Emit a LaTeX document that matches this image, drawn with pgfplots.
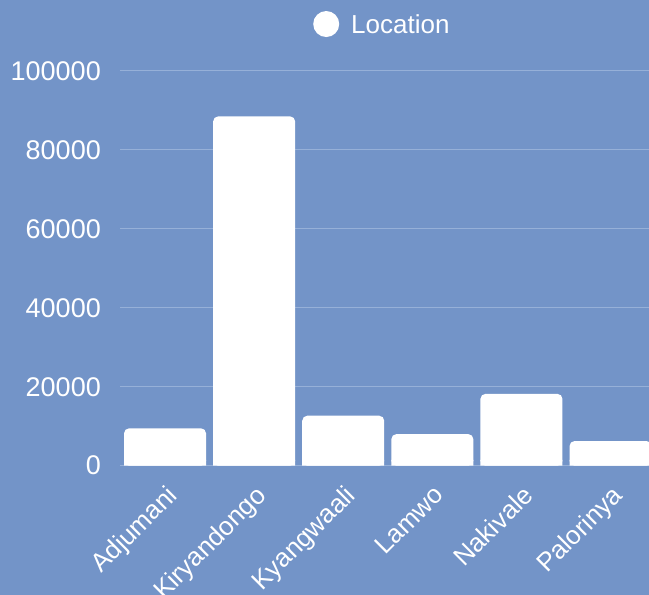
\documentclass[border=0pt]{standalone}
\usepackage{fontspec}
\setmainfont{Liberation Sans}
\usepackage{pgfplots}
\pgfplotsset{compat=1.18}
\definecolor{bg}{RGB}{115,148,200}
\definecolor{gridc}{RGB}{150,176,216}
\begin{document}
\begin{tikzpicture}
\useasboundingbox (-120.5pt,-129.3pt) rectangle (528.5pt,465.7pt);
\fill[bg] (-120.5pt,-129.3pt) rectangle (528.5pt,465.7pt);
\begin{axis}[
  at={(0pt,0pt)}, anchor=south west,
  scale only axis, width=534.6pt, height=394.7pt,
  xmin=-0.5, xmax=5.5, ymin=0, ymax=100000,
  axis line style={draw=none},
  clip=false,
  ybar, bar width=82pt, bar shift=0pt,
  xtick={0,1,2,3,4,5},
  xticklabels={Adjumani,Kiryandongo,Kyangwaali,Lamwo,Nakivale,Palorinya},
  ytick={0,20000,40000,60000,80000,100000},
  yticklabels={0,20000,40000,60000,80000,100000},
  scaled y ticks=false,
  major tick length=0pt,
  tick style={draw=none},
  ymajorgrids, grid style={gridc, line width=1pt},
  yticklabel style={font=\fontsize{27}{30}\selectfont, text=white, anchor=east, inner sep=0pt, xshift=-19.5pt},
  xticklabel style={font=\fontsize{26}{30}\selectfont, text=white, inner sep=0pt, anchor=north east, xshift=0pt, yshift=-18pt, rotate=45},
  legend style={at={(0.488,1.119)}, anchor=center, draw=none, fill=none, text=white,
    font=\fontsize{26}{30}\selectfont, inner sep=0pt, column sep=0pt, nodes={inner sep=0pt}},
]
\addplot[fill=white, draw=none, rounded corners=5pt,
  legend image code/.code={\fill[white] (13pt,0.5pt) circle (13pt); \path (38pt,0pt);}]
  coordinates {(0,9470) (1,88500) (2,12660) (3,8000) (4,18200) (5,6250)};
\addlegendentry{Location}
\addplot[fill=white, draw=none, forget plot]
  coordinates {(0,1500) (1,1500) (2,1500) (3,1500) (4,1500) (5,1500)};
\end{axis}
\end{tikzpicture}
\end{document}
